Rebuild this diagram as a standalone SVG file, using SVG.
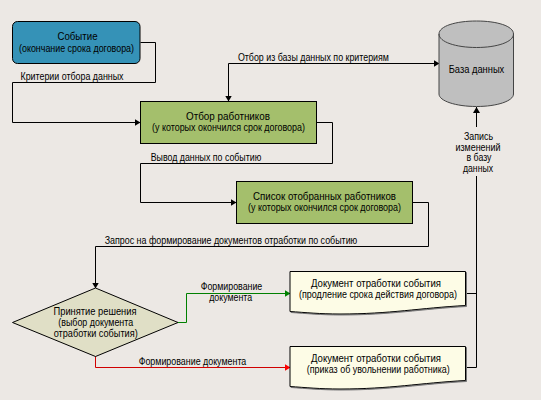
<svg xmlns="http://www.w3.org/2000/svg" width="541" height="400" viewBox="0 0 541 400">
<style>
text{font-family:"Liberation Sans",Arial,sans-serif;font-size:10.5px;fill:#000;text-anchor:middle}
.c{fill:none;stroke:#000;stroke-width:1}
.n{stroke:#000;stroke-width:1}
.d{fill:#fdfce6;stroke:#000;stroke-width:1;filter:url(#s)}
</style>
<defs>
<marker id="a" markerWidth="6" markerHeight="7" refX="5.500" refY="3.500" orient="auto-start-reverse" markerUnits="userSpaceOnUse"><path d="M0,0L6,3.500L0,7Z" fill="#000"/></marker>
<marker id="g" markerWidth="6" markerHeight="7" refX="5.500" refY="3.500" orient="auto" markerUnits="userSpaceOnUse"><path d="M0,0L6,3.500L0,7Z" fill="#008000"/></marker>
<marker id="r" markerWidth="6" markerHeight="7" refX="5.500" refY="3.500" orient="auto" markerUnits="userSpaceOnUse"><path d="M0,0L6,3.500L0,7Z" fill="#f00"/></marker>
<filter id="s" x="-5%" y="-5%" width="110%" height="115%"><feDropShadow dx="1" dy="1" stdDeviation="0.4" flood-color="#777"/></filter>
</defs>
<rect width="541" height="400" fill="#ece8e4"/>
<g id="connectors">
<path class="c" d="M140.500 42.500H155.500V82.500H12.500V122.500H140" marker-end="url(#a)"/>
<path class="c" d="M228.500 101V63.500H439" marker-start="url(#a)" marker-end="url(#a)"/>
<path class="c" d="M316 122.500H332.500V163.500H140.500V202.500H236" marker-end="url(#a)"/>
<path class="c" d="M412 202.500H428.500V246.500H95.500V288" marker-end="url(#a)"/>
<path fill="none" stroke="#008000" d="M178 322.500H186.500V293.500H290" marker-end="url(#g)"/>
<path fill="none" stroke="#d00000" d="M95.500 356V367.500H290" marker-end="url(#r)"/>
<path class="c" d="M465 293.500H476.500M465 367.500H476.500V176M476.500 127V107"/>
<path d="M473 113L476.500 107L480 113Z" fill="#000"/>
</g>
<g id="event">
<rect class="n" x="12.500" y="21.500" width="127.500" height="42" rx="5" fill="#3592b7" stroke="#333"/>
<text x="77.500" y="40" textLength="40" lengthAdjust="spacingAndGlyphs">Событие</text>
<text x="76.500" y="52" textLength="115" lengthAdjust="spacingAndGlyphs">(окончание срока договора)</text>
</g>
<g id="select">
<rect class="n" x="140.500" y="101.500" width="176" height="42" fill="#a4bf6c"/>
<text x="228" y="120" textLength="84" lengthAdjust="spacingAndGlyphs">Отбор работников</text>
<text x="228.500" y="131" textLength="153" lengthAdjust="spacingAndGlyphs">(у которых окончился срок договора)</text>
</g>
<g id="list">
<rect class="n" x="236.500" y="181.500" width="176" height="42" fill="#a4bf6c"/>
<text x="324.500" y="200" textLength="143" lengthAdjust="spacingAndGlyphs">Список отобранных работников</text>
<text x="324.500" y="211" textLength="153" lengthAdjust="spacingAndGlyphs">(у которых окончился срок договора)</text>
</g>
<g id="decision">
<path class="n" d="M95.500 288L178 322.500L95.500 356.500L12.500 322.500Z" fill="#e0dfc6" stroke="#333"/>
<text x="95" y="315" textLength="83" lengthAdjust="spacingAndGlyphs">Принятие решения</text>
<text x="95.700" y="326" textLength="75" lengthAdjust="spacingAndGlyphs">(выбор документа</text>
<text x="95.700" y="336.500" textLength="84" lengthAdjust="spacingAndGlyphs">отработки события)</text>
</g>
<g id="doc1">
<path class="d" d="M290 271.500H465.500V305.500C420 308 390 314 340 314C320 314 305 312.500 290 311.500Z"/>
<text x="376" y="287" textLength="130" lengthAdjust="spacingAndGlyphs">Документ отработки события</text>
<text x="378" y="298" textLength="158" lengthAdjust="spacingAndGlyphs">(продление срока действия договора)</text>
</g>
<g id="doc2">
<path class="d" d="M290 346.500H465.500V380.500C420 383 390 389 340 389C320 389 305 387.500 290 386.500Z"/>
<text x="376" y="362" textLength="130" lengthAdjust="spacingAndGlyphs">Документ отработки события</text>
<text x="378.300" y="373" textLength="143" lengthAdjust="spacingAndGlyphs">(приказ об увольнении работника)</text>
</g>
<g id="database">
<path d="M439 34C439 26 456 21 476.500 21C497 21 513.500 26 513.500 34V94C513.500 101 497 106.500 476.500 106.500C456 106.500 439 101 439 94Z" fill="#bfbfbf" stroke="#444"/>
<path d="M439 34C439 42 456 47.500 476.500 47.500C497 47.500 513.500 42 513.500 34" fill="none" stroke="#444"/>
<text x="476.500" y="73" textLength="55.600" lengthAdjust="spacingAndGlyphs">База данных</text>
</g>
<g id="labels">
<text x="72" y="80" textLength="103" lengthAdjust="spacingAndGlyphs">Критерии отбора данных</text>
<text x="313.400" y="61" textLength="151" lengthAdjust="spacingAndGlyphs">Отбор из базы данных по критериям</text>
<text x="206" y="161" textLength="110.600" lengthAdjust="spacingAndGlyphs">Вывод данных по событию</text>
<text x="231" y="244" textLength="252.600" lengthAdjust="spacingAndGlyphs">Запрос на формирование документов отработки по событию</text>
<text x="231.500" y="290" textLength="61.600" lengthAdjust="spacingAndGlyphs">Формирование</text>
<text x="230.700" y="301" textLength="43" lengthAdjust="spacingAndGlyphs">документа</text>
<text x="192.500" y="365" textLength="107.600" lengthAdjust="spacingAndGlyphs">Формирование документа</text>
<text x="478.500" y="140" textLength="29" lengthAdjust="spacingAndGlyphs">Запись</text>
<text x="478" y="150.500" textLength="45" lengthAdjust="spacingAndGlyphs">изменений</text>
<text x="479" y="161" textLength="25" lengthAdjust="spacingAndGlyphs">в базу</text>
<text x="478" y="172" textLength="30" lengthAdjust="spacingAndGlyphs">данных</text>
</g>
</svg>
